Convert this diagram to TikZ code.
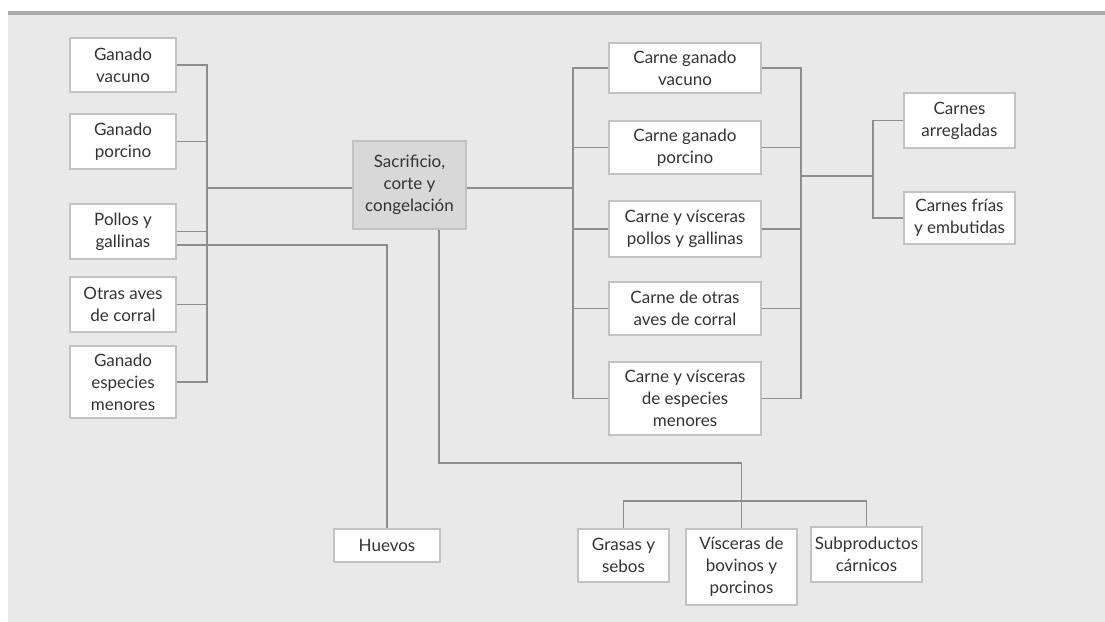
\documentclass[tikz,border=0pt]{standalone}
\usepackage{fontspec}
\setmainfont{Lato}
\usepackage{tikz}
\usetikzlibrary{calc}
\definecolor{panelgray}{HTML}{E9E9E9}
\definecolor{rulegray}{HTML}{ABABAB}
\definecolor{boxgray}{HTML}{C2C2C2}
\definecolor{linkgray}{HTML}{8E8E8E}
\definecolor{coregray}{HTML}{D8D8D8}
\definecolor{inkgray}{HTML}{333333}

\begin{document}
\begin{tikzpicture}[
  x=0.5pt,y=-0.5pt,
  box/.style={draw=boxgray,fill=white,line width=0.7pt,align=center,inner sep=1pt,
              font=\fontsize{8.5}{11}\selectfont,text=inkgray},
  src/.style={box,minimum width=53pt},
  meat/.style={box,minimum width=76pt},
  prod/.style={box,minimum width=55.5pt},
  core/.style={box,fill=coregray,minimum width=56.5pt,minimum height=44pt},
  con/.style={line width=0.7pt,color=linkgray},
]
  \useasboundingbox (0,0) rectangle (1105,622);

  % Panel
  \fill[panelgray] (8,15) rectangle (1105,622);
  \draw[rulegray,line width=1.6pt] (8,13) -- (1105,13);

  % Raw material
  \node[src,minimum height=27pt] (gv) at (123,65) {Ganado\\vacuno};
  \node[src,minimum height=27.5pt] (gp) at (123,141.5) {Ganado\\porcino};
  \node[src,minimum height=27.5pt] (pg) at (123,231.5) {Pollos y\\gallinas};
  \node[src,minimum height=27.5pt] (oa) at (123,304.5) {Otras aves\\de corral};
  \node[src,minimum height=36pt] (ge) at (123,382) {Ganado\\especies\\menores};

  % Processing
  \node[core] (sac) at (409.5,185) {Sacrificio,\\corte y\\congelación};

  % Meats
  \node[meat,minimum height=25pt] (cgv) at (685,68) {Carne ganado\\vacuno};
  \node[meat,minimum height=26.5pt] (cgp) at (685,147.5) {Carne ganado\\porcino};
  \node[meat,minimum height=28pt] (cvp) at (685,229) {Carne y vísceras\\pollos y gallinas};
  \node[meat,minimum height=26.5pt] (cda) at (685,308.5) {Carne de otras\\aves de corral};
  \node[meat,minimum height=36.5pt] (cve) at (685,398.5) {Carne y vísceras\\de especies\\menores};

  % Prepared meats
  \node[prod,minimum height=27.5pt] (car) at (959.5,120.5) {Carnes\\arregladas};
  \node[prod,minimum height=26pt] (cfe) at (959.5,218) {Carnes frías\\y embutidas};

  % By-products
  \node[box,minimum width=53pt,minimum height=16.5pt] (hue) at (387,545.5) {Huevos};
  \node[box,minimum width=45.5pt,minimum height=26.5pt] (gra) at (623.5,555.5) {Grasas y\\sebos};
  \node[prod,minimum height=38pt] (vis) at (741.5,567) {Vísceras de\\bovinos y\\porcinos};
  \node[prod,minimum height=27.5pt] (sub) at (866.5,554.5) {Subproductos\\cárnicos};

  % Bus points
  \coordinate (lbus) at (207,188);
  \coordinate (rbus) at (573,188);
  \coordinate (mbus) at (801,176);
  \coordinate (fbus) at (873,176);
  \coordinate (dbus) at (439,463);
  \coordinate (bbus) at (738,501);

  \draw[con] (gv) -| (lbus);
  \draw[con] (gp) -| (lbus);
  \draw[con] (pg) -| (lbus);
  \draw[con] (oa) -| (lbus);
  \draw[con] (ge) -| (lbus);
  \draw[con] (lbus) -- (lbus -| sac.west);
  \draw[con] ([yshift=-6.75pt]pg.east) -| (hue.north);

  \draw[con] (sac.east |- rbus) -- (rbus);
  \draw[con] (rbus) |- (cgv);
  \draw[con] (rbus) |- (cgp);
  \draw[con] (rbus) |- (cvp);
  \draw[con] (rbus) |- (cda);
  \draw[con] (rbus) |- (cve);

  \draw[con] (cgv) -| (mbus);
  \draw[con] (cgp) -| (mbus);
  \draw[con] (cvp) -| (mbus);
  \draw[con] (cda) -| (mbus);
  \draw[con] (cve) -| (mbus);
  \draw[con] (mbus) -- (fbus);
  \draw[con] (fbus) |- (car);
  \draw[con] (fbus) |- (cfe);

  \draw[con] (sac.south -| dbus) -- (dbus) -| (vis.north);
  \draw[con] (gra.north) |- (bbus) -| (sub.north);
\end{tikzpicture}
\end{document}
